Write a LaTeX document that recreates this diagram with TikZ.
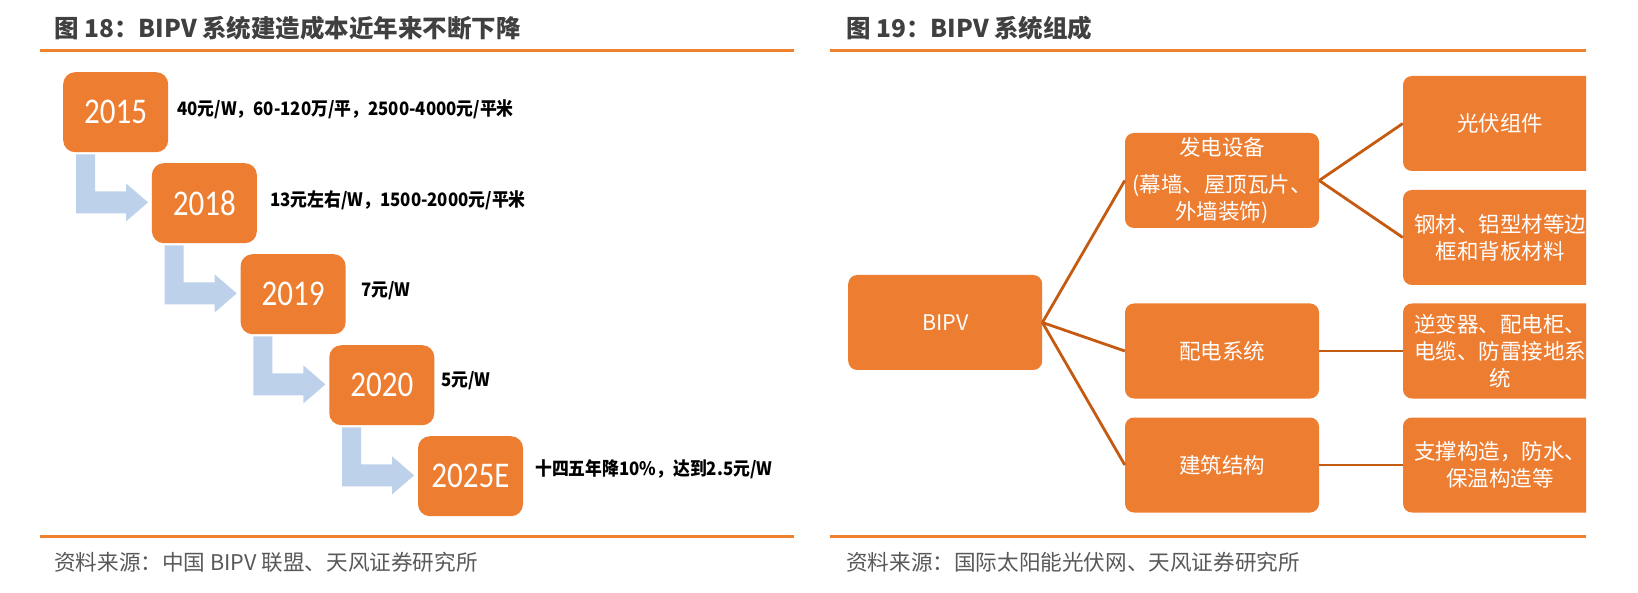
\documentclass[tikz,border=0pt]{standalone}
\usepackage{fontspec}
\setmainfont{Noto Sans CJK SC}
\newfontfamily\yearfont{Carlito}
\usetikzlibrary{calc}
\definecolor{orng}{HTML}{ED7D31}
\definecolor{rule}{HTML}{EE822F}
\definecolor{conn}{HTML}{C55A11}
\definecolor{ablue}{HTML}{BDD1EA}
\definecolor{ttl}{HTML}{404040}
\definecolor{srcc}{HTML}{595959}
\newcommand{\yr}[1]{\scalebox{0.97}[1.13]{#1}}
\newcommand{\vl}[1]{\scalebox{0.91}[1]{#1}}
\begin{document}
\begin{tikzpicture}[x=1pt,y=-1pt,
  yearbox/.style={fill=orng, rounded corners=12pt, minimum width=105pt, minimum height=80pt,
    inner sep=0pt, text=white, anchor=north west, font=\yearfont\fontsize{32}{32}\selectfont},
  vallabel/.style={anchor=west, inner sep=0pt, text=black, font=\bfseries\fontsize{18.5}{20}\selectfont},
  partbox/.style={fill=orng, rounded corners=9pt, minimum width=194pt, minimum height=95pt,
    inner sep=0pt, text=white, align=center, text width=182pt, font=\fontsize{21.5}{27}\selectfont},
  titletext/.style={anchor=west, inner sep=0pt, text=ttl, font=\bfseries\fontsize{24.5}{26}\selectfont},
  srctext/.style={anchor=west, inner sep=0pt, text=srcc, font=\fontsize{21.6}{24}\selectfont},
  rulestyle/.style={draw=rule, line width=3pt},
  connstyle/.style={draw=conn, line width=2.8pt},
  blueflow/.style={fill=ablue}]
\useasboundingbox (0,0) rectangle (1638,593);
\fill[white] (0,0) rectangle (1638,593);

% titles and rules
\node[titletext] (t18) at (54,28) {图 18：BIPV 系统建造成本近年来不断下降};
\node[titletext] (t19) at (846,28) {图 19：BIPV 系统组成};
\draw[rulestyle] (40,51) -- (794,51);
\draw[rulestyle] (830,51) -- (1586,51);
\draw[rulestyle] (40,536) -- (794,536);
\draw[rulestyle] (830,536) -- (1586,536);
\node[srctext] (s18) at (54,562) {资料来源：中国 BIPV 联盟、天风证券研究所};
\node[srctext] (s19) at (846,562) {资料来源：国际太阳能光伏网、天风证券研究所};

% left: cost timeline
\node[yearbox] (y15) at (63,72) {\yr{2015}};
\node[yearbox] (y18) at (151.7,163) {\yr{2018}};
\node[yearbox] (y19) at (240.4,254) {\yr{2019}};
\node[yearbox] (y20) at (329.1,345) {\yr{2020}};
\node[yearbox] (y25) at (417.8,436) {\yr{2025E}};

\node[vallabel] (v15) at (177,109) {\vl{40元/W，60-120万/平，2500-4000元/平米}};
\node[vallabel] (v18) at (270,200) {\vl{13元左右/W，1500-2000元/平米}};
\node[vallabel] (v19) at (361,291) {\vl{7元/W}};
\node[vallabel] (v20) at (441,381) {\vl{5元/W}};
\node[vallabel] (v25) at (535,469) {\vl{十四五年降10\%，达到2.5元/W}};

\foreach \a in {y15,y18,y19,y20}{
  \fill[blueflow] ($(\a.south west)+(13,2)$) -- ($(\a.south west)+(32,2)$)
    -- ($(\a.south west)+(32,39)$) -- ($(\a.south west)+(63,39)$)
    -- ($(\a.south west)+(63,31)$) -- ($(\a.south west)+(85,50)$)
    -- ($(\a.south west)+(63,69)$) -- ($(\a.south west)+(63,61)$)
    -- ($(\a.south west)+(13,61)$) -- cycle;
}

% right: BIPV composition
\node[partbox] (bipv) at (945.2,322.5) {BIPV};
\node[partbox] (fd) at (1222,180.5) {发电设备\\[10pt](幕墙、屋顶瓦片、\\外墙装饰)};
\node[partbox] (pd) at (1222,351) {配电系统};
\node[partbox] (jz) at (1222,465) {建筑结构};
\begin{scope}
  \clip (0,0) rectangle (1586,593);
  \node[partbox] (gf) at (1500,123.5) {光伏组件};
  \node[partbox] (gc) at (1500,237.5) {钢材、铝型材等边\\框和背板材料};
  \node[partbox] (nb) at (1500,351) {逆变器、配电柜、\\电缆、防雷接地系\\统};
  \node[partbox] (zc) at (1500,465) {支撑构造，防水、\\保温构造等};
\end{scope}

\draw[connstyle] (bipv.east) -- (fd.west);
\draw[connstyle] (bipv.east) -- (pd.west);
\draw[connstyle] (bipv.east) -- (jz.west);
\draw[connstyle] (fd.east) -- (gf.west);
\draw[connstyle] (fd.east) -- (gc.west);
\draw[connstyle] (pd.east) -- (nb.west);
\draw[connstyle] (jz.east) -- (zc.west);
\end{tikzpicture}
\end{document}
